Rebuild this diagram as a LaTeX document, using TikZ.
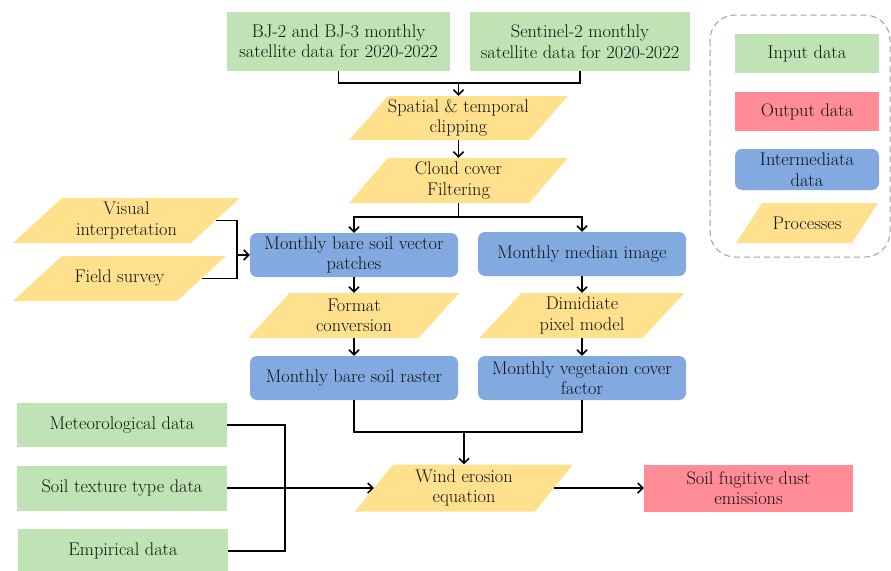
\documentclass[tikz,border=0pt]{standalone}
\usepackage{fontspec}
\setmainfont{Latin Modern Roman}
\usetikzlibrary{arrows.meta}
\definecolor{ingreen}{HTML}{BFE3B5}
\definecolor{outred}{HTML}{FF8C96}
\definecolor{midblue}{HTML}{82A9E0}
\definecolor{procyel}{HTML}{FFE08C}
\definecolor{txt}{HTML}{111111}
\newcommand{\procnode}[7]{%
  \fill[procyel] ({#2-#4/2-#6/2},{#3+#5/2}) -- ({#2+#4/2-#6/2},{#3+#5/2})
    -- ({#2+#4/2+#6/2},{#3-#5/2}) -- ({#2-#4/2+#6/2},{#3-#5/2}) -- cycle;
  \node[ptext, minimum width=#4pt, minimum height=#5pt] (#1) at (#2,#3) {#7};}
\begin{document}
\begin{tikzpicture}[x=1pt,y=-1pt,
  every node/.style={font=\fontsize{18.3}{20.5}\selectfont, text=txt, align=center, inner sep=0pt},
  ptext/.style={},
  inbox/.style={fill=ingreen},
  outbox/.style={fill=outred},
  midbox/.style={fill=midblue, rounded corners=7pt},
  conn/.style={line width=1.5pt, black},
  arr/.style={conn, -{Straight Barb[length=5pt,width=10pt,line width=1.5pt]}}]
\useasboundingbox (0,0) rectangle (891,570);

% legend
\draw[gray!75, line width=1pt, dash pattern=on 6pt off 4pt, rounded corners=25pt] (710,15) rectangle (890,257);
\node[inbox, minimum width=144pt, minimum height=39pt] (lin) at (807,53.5) {Input data};
\node[outbox, minimum width=144pt, minimum height=39pt] (lout) at (807,111.5) {Output data};
\node[midbox, minimum width=144pt, minimum height=41pt] (lmid) at (807,169.5) {Intermediata\\data};
\procnode{lproc}{807}{223}{116}{40}{26}{Processes}

% inputs top
\node[inbox, minimum width=223pt, minimum height=59pt] (bj) at (338.5,41.5) {BJ-2 and BJ-3 monthly\\satellite data for 2020-2022};
\node[inbox, minimum width=220pt, minimum height=59pt] (sen) at (580,41.5) {Sentinel-2 monthly\\satellite data for 2020-2022};

\procnode{sp}{458.5}{118}{180}{44}{39}{Spatial \& temporal\\clipping}
\procnode{cl}{458.5}{180.5}{180}{45}{39}{Cloud cover\\Filtering}

\procnode{vis}{126.5}{220.5}{178}{45}{49}{Visual\\interpretation}
\procnode{fs}{119.5}{278.5}{164}{45}{49}{Field survey}

\node[midbox, minimum width=208pt, minimum height=44pt] (vec) at (354,255) {Monthly bare soil vector\\patches};
\node[midbox, minimum width=208pt, minimum height=44pt] (med) at (582,254) {Monthly median image};

\procnode{fmt}{354}{315.5}{170}{45}{41}{Format\\conversion}
\procnode{dim}{582}{315.5}{163}{45}{42}{Dimidiate\\pixel model}

\node[midbox, minimum width=208pt, minimum height=44pt] (ras) at (354,378) {Monthly bare soil raster};
\node[midbox, minimum width=208pt, minimum height=44pt] (veg) at (582,378) {Monthly vegetaion cover\\factor};

\node[inbox, minimum width=210pt, minimum height=44pt] (met) at (122,425) {Meteorological data};
\node[inbox, minimum width=210pt, minimum height=45pt] (soil) at (122,488) {Soil texture type data};
\node[inbox, minimum width=210pt, minimum height=44pt] (emp) at (123,551) {Empirical data};

\procnode{wind}{464}{488}{180}{47}{38}{Wind erosion\\equation}
\node[outbox, minimum width=209pt, minimum height=47pt] (out) at (748.5,488) {Soil fugitive dust\\emissions};

% connectors
\coordinate (j1) at (458.5,83);
\draw[conn] (bj.south) |- (j1) -| (sen.south);
\draw[arr] (j1) -- (sp.north);
\draw[arr] (sp.south) -- (cl.north);
\coordinate (j2) at (458.5,217);
\draw[conn] (cl.south) -- (j2);
\draw[arr] (j2) -| (vec.north);
\draw[arr] (j2) -| (med.north);
\coordinate (j3) at (237,255);
\draw[conn] (vis.east) -| (j3) |- (fs.east);
\draw[arr] (j3) -- (vec.west);
\draw[arr] (vec.south) -- (fmt.north);
\draw[arr] (fmt.south) -- (ras.north);
\draw[arr] (med.south) -- (dim.north);
\draw[arr] (dim.south) -- (veg.north);
\coordinate (j4) at (464,432);
\draw[conn] (ras.south) |- (j4) -| (veg.south);
\draw[arr] (j4) -- (wind.north);
\coordinate (j5) at (285,488);
\draw[conn] (met.east) -| (j5) |- (emp.east);
\draw[arr] (soil.east) -- (wind.west);
\draw[arr] (wind.east) -- (out.west);
\end{tikzpicture}
\end{document}
